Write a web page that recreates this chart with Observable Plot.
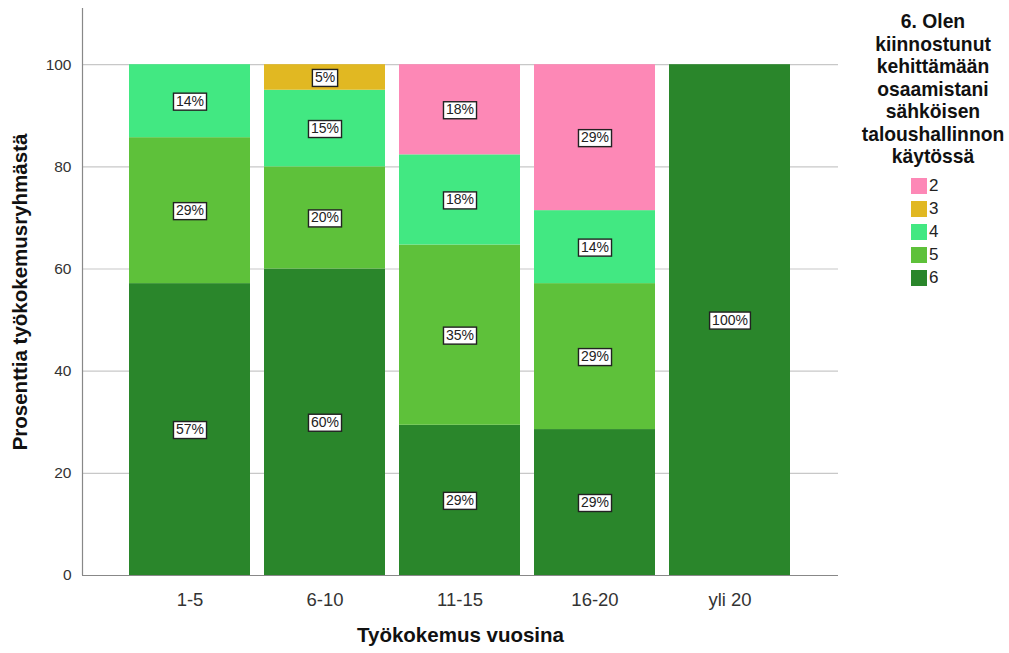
<!DOCTYPE html>
<html>
<head>
<meta charset="utf-8">
<script src="https://cdn.jsdelivr.net/npm/d3@7"></script>
<script src="https://cdn.jsdelivr.net/npm/@observablehq/plot@0.6"></script>
<style>
  html, body { margin: 0; padding: 0; background: #fff; }
  #wrap { position: relative; width: 1009px; height: 653px; font-family: "Liberation Sans", Arial, sans-serif; }
  #chart { position: absolute; left: 0; top: 0; }
  #legend { position: absolute; left: 852px; top: 11px; width: 162px; text-align: center; }
  #legend .title { font-weight: bold; font-size: 19.3px; line-height: 22.5px; color: #111; }
  #legend .items { margin-top: 6px; margin-left: 59px; text-align: left; }
  #legend .item { display: flex; align-items: center; height: 23px; font-size: 17px; color: #222; }
  #legend .sw { width: 16px; height: 16px; margin-right: 2px; }
</style>
</head>
<body>
<div id="wrap">
  <div id="chart"></div>
  <div id="legend"></div>
</div>
<script>
const groups = ["1-5", "6-10", "11-15", "16-20", "yli 20"];
const responses = ["2", "3", "4", "5", "6"];
const stackOrder = ["6", "5", "4", "3", "2"];
const pct6 = [57.14, 60, 29.41, 28.57, 100];
const pct5 = [28.57, 20, 35.29, 28.57, 0];
const pct4 = [14.29, 15, 17.65, 14.29, 0];
const pct3 = [0, 5, 0, 0, 0];
const pct2 = [0, 0, 17.65, 28.57, 0];
const colors = ["#fd88b6", "#e1b822", "#42e882", "#5ec13a", "#2a862b"];
const yTicks = [0, 20, 40, 60, 80, 100];
const legendTitle = ["6. Olen", "kiinnostunut", "kehittämään", "osaamistani", "sähköisen", "taloushallinnon", "käytössä"];

const series = {"2": pct2, "3": pct3, "4": pct4, "5": pct5, "6": pct6};
const rows = [];
groups.forEach((g, i) => {
  stackOrder.forEach(r => {
    const v = series[r][i];
    if (v > 0) rows.push({group: g, response: r, value: v});
  });
});

const plot = Plot.plot({
  width: 850,
  height: 653,
  marginLeft: 82,
  marginRight: 12,
  marginTop: 8,
  marginBottom: 78,
  style: {fontFamily: "Liberation Sans, Arial, sans-serif", background: "#fff"},
  x: {domain: groups, paddingInner: 0.103, paddingOuter: 0.331, label: null},
  y: {domain: [0, 111], label: null},
  color: {domain: responses, range: colors},
  marks: [
    Plot.gridY(yTicks, {stroke: "#c8c8c8", strokeOpacity: 1, strokeWidth: 1.2}),
    Plot.barY(rows, {x: "group", y: "value", fill: "response", order: stackOrder}),
    Plot.ruleY([0], {stroke: "#888", strokeWidth: 1.2}),
    Plot.axisY(yTicks, {tickSize: 0, tickPadding: 11, fill: "#333", label: null}),
    Plot.axisX({tickSize: 0, tickPadding: 17, fill: "#333", label: null}),
    Plot.text(["Prosenttia työkokemusryhmästä"], {frameAnchor: "left", textAnchor: "middle", dx: -62, rotate: -90, fontSize: 20.5, fontWeight: "bold", fill: "#111"}),
    Plot.text(["Työkokemus vuosina"], {frameAnchor: "bottom", dy: 66, fontSize: 20.5, fontWeight: "bold", fill: "#111"}),
    Plot.text(rows, Plot.stackY({x: "group", y: "value", z: "response", order: stackOrder, text: d => Math.round(d.value) + "%", fontSize: 14, fill: "#222", className: "seglabel"}))
  ]
});
document.getElementById("chart").appendChild(plot);

const svg = d3.select(plot);
// tick label sizes
svg.selectAll('g[aria-label="x-axis tick label"]').attr("font-size", 18.5).style("font-size", "18.5px");
svg.selectAll('g[aria-label="x-axis tick label"] text').style("font-size", "18.5px");
svg.selectAll('g[aria-label="y-axis tick label"]').attr("font-size", 15.5).style("font-size", "15.5px");
svg.selectAll('g[aria-label="y-axis tick label"] text').style("font-size", "15.5px");

// left axis line
const ys = plot.scale("y");
svg.append("line").attr("x1", 82.5).attr("x2", 82.5).attr("y1", ys.apply(111)).attr("y2", ys.apply(0))
  .attr("stroke", "#888").attr("stroke-width", 1.2);

// white boxes behind segment labels
plot.querySelectorAll(".seglabel text").forEach(t => {
  const b = t.getBBox();
  const r = document.createElementNS("http://www.w3.org/2000/svg", "rect");
  r.setAttribute("x", b.x - 2.5);
  r.setAttribute("y", b.y + 0.5);
  r.setAttribute("width", b.width + 5);
  r.setAttribute("height", b.height + 1);
  r.setAttribute("fill", "#fff");
  r.setAttribute("stroke", "#222");
  r.setAttribute("stroke-width", 1.4);
  if (t.getAttribute("transform")) r.setAttribute("transform", t.getAttribute("transform"));
  t.parentNode.insertBefore(r, t);
});

// legend
const leg = document.getElementById("legend");
const title = document.createElement("div");
title.className = "title";
title.innerHTML = legendTitle.join("<br>");
leg.appendChild(title);
const items = document.createElement("div");
items.className = "items";
responses.forEach((r, i) => {
  const it = document.createElement("div");
  it.className = "item";
  it.innerHTML = `<span class="sw" style="background:${colors[i]}"></span><span>${r}</span>`;
  items.appendChild(it);
});
leg.appendChild(items);
</script>
</body>
</html>
